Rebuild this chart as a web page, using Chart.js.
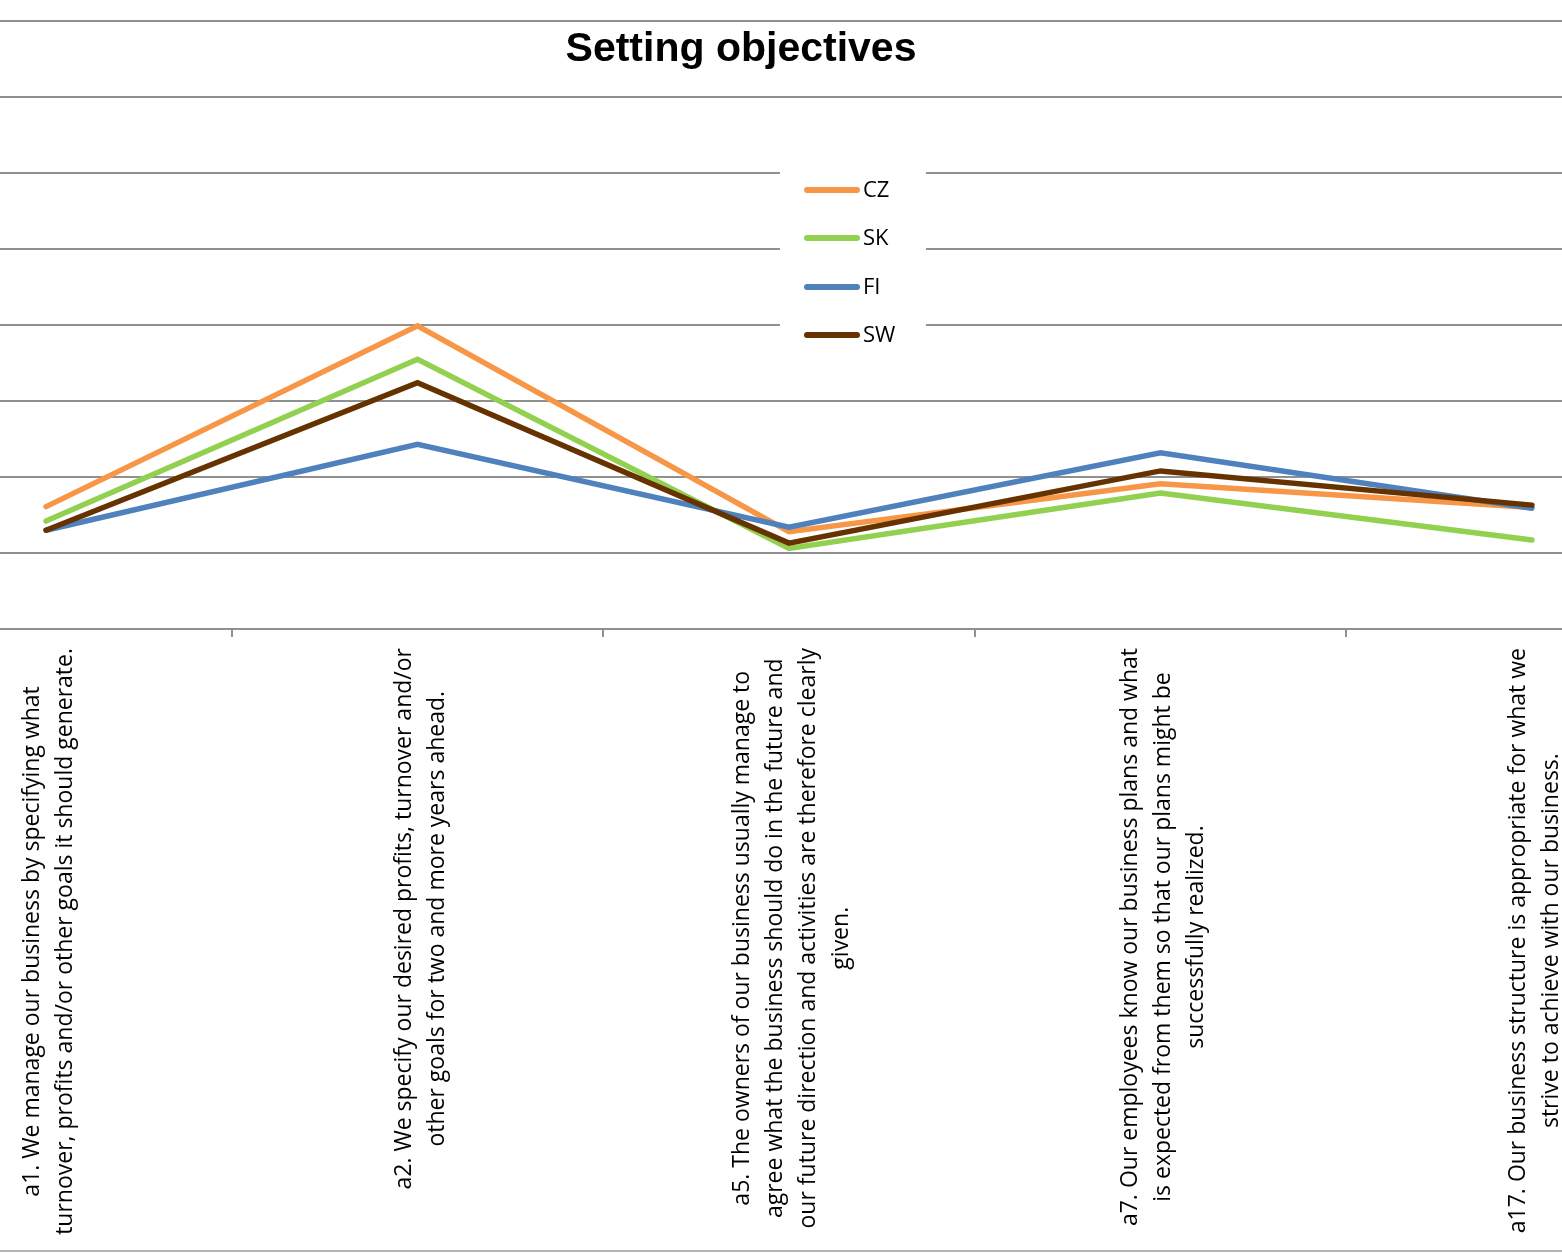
<!DOCTYPE html>
<html>
<head>
<meta charset="utf-8">
<script src="https://cdn.jsdelivr.net/npm/chart.js@4.4.0/dist/chart.umd.min.js"></script>
<style>
  html, body { margin: 0; padding: 0; background: #fff; }
  #wrap { width: 1562px; height: 1253px; }
</style>
</head>
<body>
<div id="wrap"><canvas id="chart"></canvas></div>
<script>
//////////////////////////////////////////////////
// Data

const chartTitle = 'Setting objectives'

const questions = [
  ['a1. We manage our business by specifying what', 'turnover, profits and/or other goals it should generate.'],
  ['a2. We specify our desired profits, turnover and/or', 'other goals for two and more years ahead.'],
  ['a5. The owners of our business usually manage to', 'agree what the business should do in the future and', 'our future direction and activities are therefore clearly', 'given.'],
  ['a7. Our employees know our business plans and what', 'is expected from them so that our plans might be', 'successfully realized.'],
  ['a17. Our business structure is appropriate for what we', 'strive to achieve with our business.']
]

const countries = ['CZ', 'SK', 'FI', 'SW']
const countryColors = ['#F79646', '#92D050', '#4F81BD', '#663300']

const czValues = [1.61, 3.99, 1.28, 1.91, 1.60]
const skValues = [1.42, 3.55, 1.06, 1.79, 1.17]
const fiValues = [1.30, 2.43, 1.34, 2.32, 1.59]
const swValues = [1.30, 3.24, 1.13, 2.08, 1.63]
const seriesValues = [czValues, skValues, fiValues, swValues]

const yMin = 0
const yMax = 8
const yStep = 1

//////////////////////////////////////////////////
// Style

const gridColor = '#909090'
const textColor = '#000'
const labelFont = '23px "Open Sans"'
const labelLineHeight = 33
const legendFont = '22px "Open Sans"'
const titleFont = 'bold 41px "Liberation Sans"'

//////////////////////////////////////////////////
// Title, legend, category labels

const decorPlugin = {
  id: 'decor',
  afterDraw(chart) {
    const { ctx, scales: { x } } = chart
    ctx.save()

    // title
    ctx.fillStyle = textColor
    ctx.font = titleFont
    ctx.textAlign = 'center'
    ctx.textBaseline = 'alphabetic'
    ctx.fillText(chartTitle, 741, 61)

    // legend box sitting on the gridlines
    ctx.fillStyle = '#fff'
    ctx.fillRect(780, 158, 146, 198)
    const rowY = [190, 238, 287, 335]
    chart.data.datasets.forEach((ds, i) => {
      ctx.strokeStyle = ds.borderColor
      ctx.lineWidth = 6
      ctx.lineCap = 'round'
      ctx.beginPath()
      ctx.moveTo(807, rowY[i])
      ctx.lineTo(857, rowY[i])
      ctx.stroke()
      ctx.fillStyle = textColor
      ctx.font = legendFont
      ctx.textAlign = 'left'
      ctx.textBaseline = 'middle'
      ctx.fillText(ds.label, 863, rowY[i] + 1)
    })

    // rotated category labels, lines centred on each other
    ctx.font = labelFont
    ctx.fillStyle = textColor
    ctx.textAlign = 'center'
    ctx.textBaseline = 'middle'
    questions.forEach((lines, i) => {
      const cx = x.getPixelForValue(i) + 3
      const widest = Math.max(...lines.map(l => ctx.measureText(l).width))
      ctx.save()
      ctx.translate(cx, 648)
      ctx.rotate(-Math.PI / 2)
      lines.forEach((line, j) => {
        ctx.fillText(line, -widest / 2, (j - (lines.length - 1) / 2) * labelLineHeight)
      })
      ctx.restore()
    })

    // outer frame bottom edge
    ctx.strokeStyle = '#b4b4b4'
    ctx.lineWidth = 2
    ctx.beginPath()
    ctx.moveTo(0, 1251)
    ctx.lineTo(chart.width, 1251)
    ctx.stroke()

    ctx.restore()
  }
}

//////////////////////////////////////////////////
// Chart

const datasets = countries.map((name, i) => ({
  label: name,
  data: seriesValues[i].map((v, k) => ({ x: k, y: v })),
  borderColor: countryColors[i],
  backgroundColor: countryColors[i],
  borderWidth: 5.5,
  borderCapStyle: 'round',
  borderJoinStyle: 'miter',
  pointRadius: 0,
  tension: 0,
  order: countries.length - i
}))

new Chart(document.getElementById('chart'), {
  type: 'line',
  data: { datasets },
  plugins: [decorPlugin],
  options: {
    responsive: true,
    maintainAspectRatio: false,
    animation: false,
    devicePixelRatio: 1,
    layout: {
      padding: { top: 21, bottom: 616, left: 0, right: 0 }
    },
    plugins: {
      legend: { display: false },
      title: { display: false },
      tooltip: { enabled: false }
    },
    scales: {
      x: {
        type: 'linear',
        // first and last category sit just inside the plot edges
        min: -0.124,
        max: questions.length - 1 + 0.081,
        afterBuildTicks: (scale) => {
          scale.ticks = questions.slice(1).map((_, i) => ({ value: i + 0.5 }))
        },
        grid: {
          drawOnChartArea: false,
          drawTicks: true,
          tickLength: 8,
          color: gridColor,
          lineWidth: 2
        },
        border: { display: true, color: gridColor, width: 2 },
        ticks: { display: false }
      },
      y: {
        min: yMin,
        max: yMax,
        ticks: { display: false, stepSize: yStep },
        grid: { color: gridColor, lineWidth: 2, drawTicks: false },
        border: { display: false }
      }
    }
  }
})
</script>
</body>
</html>
